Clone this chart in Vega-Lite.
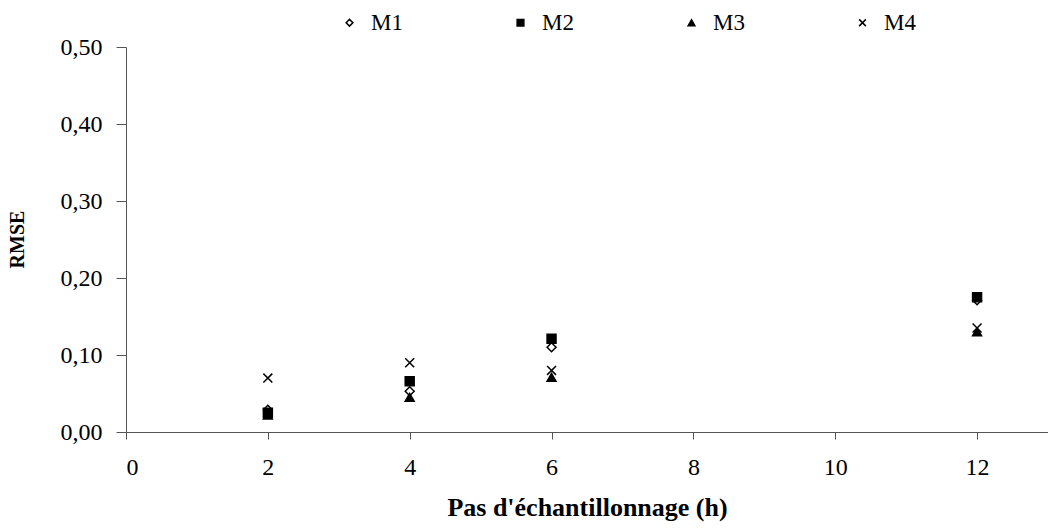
{
  "$schema": "https://vega.github.io/schema/vega-lite/v6.json",
  "width": 922,
  "height": 385,
  "autosize": {"type": "none"},
  "padding": {"left": 126, "top": 47, "right": 0, "bottom": 98},
  "background": "white",
  "data": {
    "values": [
      {"pas": 2, "modele": "M1", "rmse": 0.029},
      {"pas": 2, "modele": "M2", "rmse": 0.025},
      {"pas": 2, "modele": "M3", "rmse": 0.022},
      {"pas": 2, "modele": "M4", "rmse": 0.07},
      {"pas": 4, "modele": "M1", "rmse": 0.053},
      {"pas": 4, "modele": "M2", "rmse": 0.066},
      {"pas": 4, "modele": "M3", "rmse": 0.045},
      {"pas": 4, "modele": "M4", "rmse": 0.09},
      {"pas": 6, "modele": "M1", "rmse": 0.11},
      {"pas": 6, "modele": "M2", "rmse": 0.121},
      {"pas": 6, "modele": "M3", "rmse": 0.071},
      {"pas": 6, "modele": "M4", "rmse": 0.08},
      {"pas": 12, "modele": "M1", "rmse": 0.171},
      {"pas": 12, "modele": "M2", "rmse": 0.175},
      {"pas": 12, "modele": "M3", "rmse": 0.13},
      {"pas": 12, "modele": "M4", "rmse": 0.135}
    ]
  },
  "mark": {"type": "point", "filled": true, "opacity": 1, "strokeWidth": 1.5, "size": 80},
  "encoding": {
    "x": {
      "field": "pas", "type": "quantitative",
      "scale": {"domain": [0, 13], "nice": false, "zero": true},
      "axis": {
        "values": [0, 2, 4, 6, 8, 10, 12],
        "title": "Pas d'échantillonnage (h)",
        "tickSize": 7, "labelPadding": 16,
        "labelFontSize": 24,
        "titleFontSize": 26, "titleFontWeight": "bold",
        "titleBaseline": "alphabetic", "titleY": 83
      }
    },
    "y": {
      "field": "rmse", "type": "quantitative",
      "scale": {"domain": [0, 0.5], "nice": false},
      "axis": {
        "values": [0, 0.1, 0.2, 0.3, 0.4, 0.5],
        "labelExpr": "replace(format(datum.value, '.2f'), '.', ',')",
        "title": "RMSE",
        "tickSize": 10, "labelPadding": 14,
        "labelFontSize": 24,
        "titleFontSize": 20, "titleFontWeight": "bold",
        "titleAngle": -90, "titleX": -109, "titleY": 192,
        "titleAlign": "center", "titleBaseline": "middle"
      }
    },
    "shape": {
      "field": "modele", "type": "nominal",
      "scale": {"domain": ["M1", "M2", "M3", "M4"], "range": ["diamond", "square", "triangle-up", "M-1,-1L1,1M-1,1L1,-1"]},
      "legend": {"title": null, "orient": "none", "legendX": 212, "legendY": -36, "direction": "horizontal", "columns": 4}
    },
    "fill": {
      "field": "modele", "type": "nominal",
      "scale": {"domain": ["M1", "M2", "M3", "M4"], "range": ["white", "black", "black", "black"]},
      "legend": {"title": null, "orient": "none", "legendX": 212, "legendY": -36, "direction": "horizontal", "columns": 4}
    },
    "stroke": {
      "field": "modele", "type": "nominal",
      "scale": {"domain": ["M1", "M2", "M3", "M4"], "range": ["black", "black", "black", "black"]},
      "legend": {"title": null, "orient": "none", "legendX": 212, "legendY": -36, "direction": "horizontal", "columns": 4}
    }
  },
  "config": {
    "view": {"stroke": null},
    "axis": {
      "grid": false,
      "domainColor": "#555555",
      "tickColor": "#555555",
      "labelColor": "black",
      "titleColor": "black",
      "labelFont": "Liberation Serif, Times New Roman, serif",
      "titleFont": "Liberation Serif, Times New Roman, serif",
      "labelFontWeight": "normal"
    },
    "legend": {
      "labelFont": "Liberation Serif, Times New Roman, serif",
      "labelFontSize": 23,
      "labelColor": "black",
      "symbolSize": 45,
      "symbolStrokeWidth": 1.5,
      "symbolOpacity": 1,
      "labelOffset": 10,
      "columnPadding": 106,
      "padding": 0
    }
  }
}
